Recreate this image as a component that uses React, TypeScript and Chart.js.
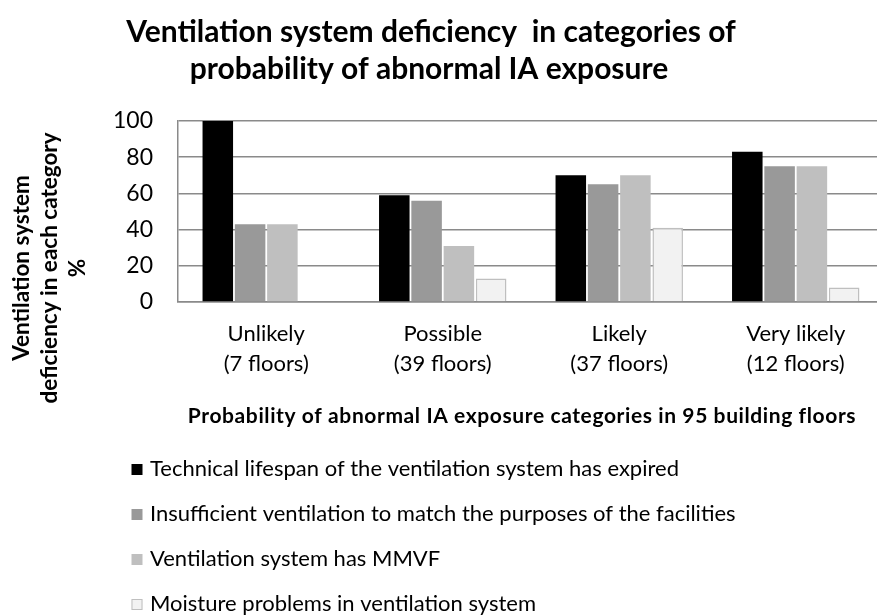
import React, { useEffect, useRef } from 'react';
import { Chart, registerables } from 'chart.js';

Chart.register(...registerables);

const FONT = 'Lato, "Open Sans", sans-serif';

const categories = ['Unlikely', 'Possible', 'Likely', 'Very likely'];
const floorLabels = ['(7 floors)', '(39 floors)', '(37 floors)', '(12 floors)'];

const lifespanExpired = [100, 59, 70, 83];
const insufficientVentilation = [43, 56, 65, 75];
const hasMMVF = [43, 31, 70, 75];
const moistureProblems = [0, 13, 41, 8];

const seriesNames = [
  'Technical lifespan of the ventilation system has expired',
  'Insufficient ventilation to match the purposes of the facilities',
  'Ventilation system has MMVF',
  'Moisture problems in ventilation system',
];
const seriesColors = ['#000000', '#999999', '#bfbfbf', '#f2f2f2'];
const seriesBorders = ['#000000', '#999999', '#bfbfbf', '#bfbfbf'];

const titleLines = ['Ventilation system deficiency  in categories of', 'probability of abnormal IA exposure'];
const yTitleLines = ['Ventilation system', 'deficiency in each category', '%'];
const xTitle = 'Probability of abnormal IA exposure categories in 95 building floors';

const textPlugin = {
  id: 'textPlugin',
  afterDraw(chart: any) {
    const ctx = chart.ctx as any;
    ctx.save();
    ctx.fillStyle = '#000';
    ctx.textAlign = 'center';
    ctx.textBaseline = 'alphabetic';
    ctx.font = `bold 30px ${FONT}`;
    ctx.fillText(titleLines[0], 431, 42);
    ctx.fillText(titleLines[1], 429, 79);

    ctx.font = `bold 21px ${FONT}`;
    ctx.letterSpacing = '0.6px';
    ctx.fillText(xTitle, 522, 423);
    ctx.letterSpacing = '0px';

    ctx.save();
    ctx.translate(0, 268);
    ctx.rotate(-Math.PI / 2);
    ctx.font = `bold 22.5px ${FONT}`;
    yTitleLines.forEach((t, i) => ctx.fillText(t, 0, 28.5 + i * 28));
    ctx.restore();

    // legend
    ctx.textAlign = 'left';
    ctx.textBaseline = 'alphabetic';
    ctx.font = `22px ${FONT}`;
    chart.data.datasets.forEach((ds: any, i: number) => {
      const base = 476 + i * 45;
      ctx.fillStyle = ds.backgroundColor;
      ctx.fillRect(131.5, base - 12, 11, 11);
      if (i === 3) {
        ctx.strokeStyle = '#bfbfbf';
        ctx.lineWidth = 1;
        ctx.strokeRect(132, base - 11.5, 10, 10);
      }
      ctx.fillStyle = '#000';
      ctx.fillText(ds.label, 150, base);
    });
    ctx.restore();
  },
};

export default function App() {
  const ref = useRef<HTMLCanvasElement>(null);
  useEffect(() => {
    if (!ref.current) return;
    const seriesData = [lifespanExpired, insufficientVentilation, hasMMVF, moistureProblems];
    const chart = new Chart(ref.current, {
      type: 'bar',
      data: {
        labels: categories.map((c, i) => [c, floorLabels[i]]),
        datasets: seriesData.map((d, i) => ({
          label: seriesNames[i],
          data: d,
          backgroundColor: seriesColors[i],
          borderColor: seriesBorders[i],
          borderWidth: i === 3 ? 1.5 : 0,
          categoryPercentage: 0.732,
          barPercentage: 0.945,
        })),
      },
      options: {
        animation: false,
        responsive: false,
        layout: { padding: { top: 121, left: 0, right: 1, bottom: 213 } },
        plugins: { legend: { display: false }, title: { display: false }, tooltip: { enabled: false } },
        scales: {
          x: {
            type: 'category',
            position: 'bottom',
            grid: { display: false, drawTicks: false },
            border: { display: true, color: '#8a8a8a', width: 1.5 },
            ticks: {
              autoSkip: false,
              maxRotation: 0,
              padding: 17,
              color: '#000',
              font: { family: FONT, size: 22, lineHeight: '30px' },
            },
            afterFit: (s: any) => { s.height = 100; },
          },
          y: {
            min: 0,
            max: 100,
            grid: { color: '#8a8a8a', lineWidth: 1.5, drawTicks: false },
            border: { display: true, color: '#8a8a8a', width: 1.5 },
            ticks: { stepSize: 20, padding: 25, color: '#000', font: { family: FONT, size: 23 } },
            afterFit: (s: any) => { s.width = 178; },
          },
        },
      },
      plugins: [textPlugin],
    });
    return () => chart.destroy();
  }, []);
  return (
    <div style={{ position: 'absolute', left: 0, top: 0, width: 877, height: 615, overflow: 'hidden', background: '#fff' }}>
      <canvas ref={ref} width={885} height={615} style={{ display: 'block' }} />
    </div>
  );
}
